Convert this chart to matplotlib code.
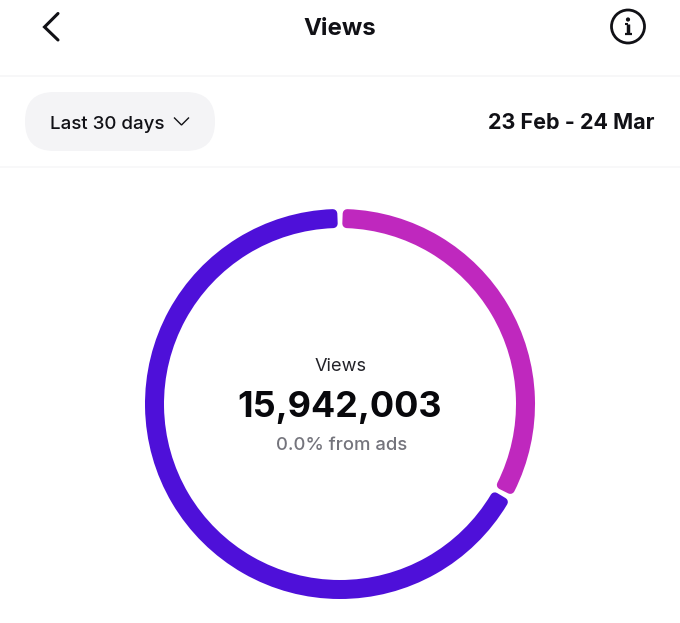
import matplotlib
matplotlib.use("Agg")
import matplotlib.pyplot as plt
from matplotlib.patches import FancyBboxPatch, Circle

W, H = 680, 623
plt.rcParams['font.family'] = ['Inter', 'DejaVu Sans']

# Data
segment_labels = ["Non-followers", "Followers"]
segment_values = [33.0, 67.0]
segment_colors = ["#BF28BE", "#4E10D9"]
page_title = "Views"
range_label = "Last 30 days"
date_label = "23 Feb - 24 Mar"
center_label = "Views"
center_value = "15,942,003"
center_note = "0.0% from ads"

fig = plt.figure(figsize=(W / 100, H / 100), dpi=100, facecolor="white")

# Page chrome in pixel coordinates
ui = fig.add_axes([0, 0, 1, 1])
ui.set_xlim(0, W)
ui.set_ylim(H, 0)
ui.axis("off")

INK = "#111116"
ui.plot([0, W], [76, 76], color="#F6F6F7", lw=1.2, zorder=1)
ui.plot([0, W], [166.5, 166.5], color="#F7F7F8", lw=1.2, zorder=1)

ui.plot([58, 44.5, 58], [13.5, 27, 40], color=INK, lw=2.2, solid_capstyle="round",
        solid_joinstyle="miter")
ui.text(340, 29, page_title, ha="center", va="center", fontsize=17.3, fontweight="bold", color=INK)

ui.add_patch(Circle((628, 26.5), 16.5, fc="none", ec=INK, lw=2.0))
ui.plot([628, 628], [24, 33.5], color=INK, lw=2.5, solid_capstyle="butt")
ui.plot([625, 628], [24, 24], color=INK, lw=1.5, solid_capstyle="butt")
ui.plot([624.5, 631.5], [34, 34], color=INK, lw=1.6, solid_capstyle="butt")
ui.add_patch(Circle((628, 19.5), 2.1, fc=INK, ec="none"))

ui.add_patch(FancyBboxPatch((25 + 29, 92 + 29), 190 - 58, 1,
                            boxstyle="round,pad=29,rounding_size=29",
                            fc="#F4F4F6", ec="none", zorder=1))
ui.text(50, 124.5, range_label, ha="left", va="center", fontsize=13.5, fontweight="medium", color=INK)
ui.plot([174.5, 181.5, 188.5], [118, 125, 118], color=INK, lw=1.0, solid_joinstyle="miter")
ui.text(655, 123, date_label, ha="right", va="center", fontsize=15.5, fontweight="bold", color=INK)

# Donut
cx, cy, R = 340, 404, 195
ax = fig.add_axes([(cx - R) / W, 1 - (cy + R) / H, 2 * R / W, 2 * R / H])
stroke_px = 9.0
band_px = 19.0
gap_px = 5.0
mid_px = R - band_px / 2
wedges, _ = ax.pie(segment_values, colors=segment_colors, startangle=90, counterclock=False,
                   radius=(R - stroke_px / 2) / R,
                   wedgeprops=dict(width=(band_px - stroke_px) / R))
inset = (gap_px / 2 + stroke_px / 2) / mid_px * 57.2958
for w, c in zip(wedges, segment_colors):
    w.set_theta1(w.theta1 + inset)
    w.set_theta2(w.theta2 - inset)
    w.set_edgecolor(c)
    w.set_linewidth(stroke_px * 0.72)
    w.set_joinstyle("round")
ax.set_xlim(-1, 1)
ax.set_ylim(-1, 1)
ax.axis("off")

ui.set_zorder(2)
ui.patch.set_alpha(0)
ui.text(340.5, 366.5, center_label, ha="center", va="center", fontsize=13.1, color="#222228")
ui.text(339.5, 408, center_value, ha="center", va="center", fontsize=25.9, fontweight="bold", color="#08080C")
ui.text(342, 445, center_note, ha="center", va="center", fontsize=13.3, fontweight="medium", color="#74747C")

fig.savefig("out.png", dpi=100, facecolor="white")
